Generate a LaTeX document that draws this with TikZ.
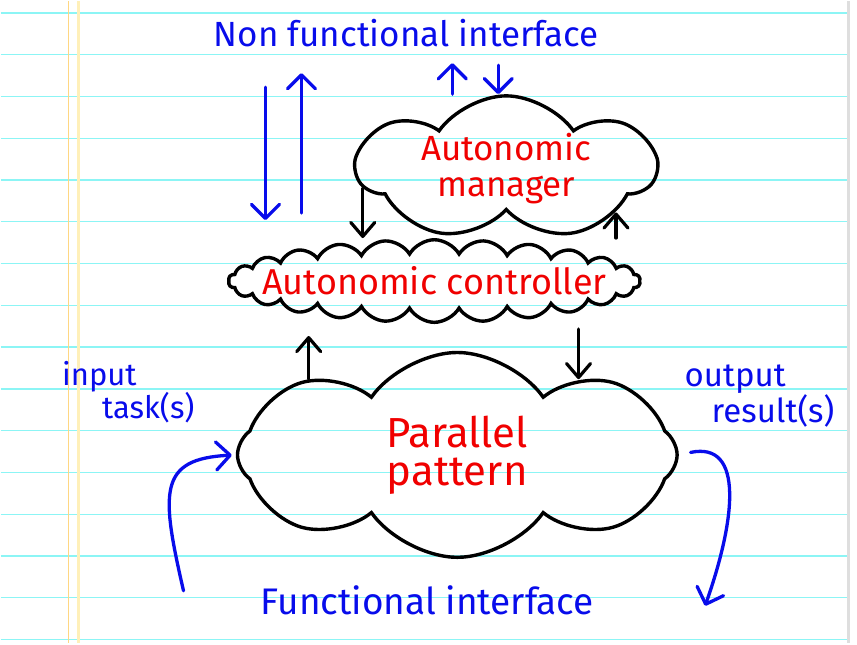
\documentclass[tikz,border=0pt]{standalone}
\usepackage{fontspec}
\setmainfont{Fira Sans}
\usetikzlibrary{shapes.symbols,arrows.meta,positioning}
\definecolor{inkblue}{RGB}{8,12,235}
\definecolor{inkred}{RGB}{240,0,0}
\definecolor{ruleline}{RGB}{140,245,245}
\definecolor{marginA}{RGB}{255,215,130}
\definecolor{marginB}{RGB}{255,240,185}
\begin{document}
\begin{tikzpicture}[x=1pt,y=-1pt,
    cloudbox/.style={cloud, draw=black, line width=3.4pt, cloud ignores aspect,
      align=center, text=inkred, inner sep=0pt},
    flow/.style={-{Straight Barb[length=14pt,width=28pt,round]}, draw=inkblue,
      line width=3.3pt, line cap=round},
    link/.style={-{Straight Barb[length=14pt,width=24pt,round]},
      line width=3.2pt, line cap=round},
    note/.style={text=inkblue, font=\fontsize{35}{35}\selectfont}
  ]
  % notebook paper
  \fill[white] (0,0) rectangle (857,642);
  \foreach \k in {0,...,15}
    \draw[ruleline, line width=1.3pt] (0,11.7+41.8*\k) -- (847,11.7+41.8*\k);
  \draw[marginA, line width=1pt] (67.5,0) -- (67.5,642);
  \draw[marginB, line width=2.5pt] (77.7,0) -- (77.7,642);
  \fill[black!13] (847,0) rectangle (849.5,642);
  \useasboundingbox (0,0) rectangle (857,642);

  % clouds
  \node[cloudbox, cloud puffs=7, cloud puff arc=110, minimum width=298pt,
    minimum height=140pt, font=\fontsize{35}{36}\selectfont] (manager) at (506,167)
    {Autonomic\\manager};
  \node[cloudbox, cloud puffs=26, cloud puff arc=120, inner xsep=-27pt, inner ysep=5pt,
    font=\fontsize{36}{36}\selectfont] (controller) at (434,280)
    {Autonomic controller};
  \node[cloudbox, cloud puffs=8, cloud puff arc=110, minimum width=440pt,
    minimum height=205pt, font=\fontsize{42}{38}\selectfont] (pattern) at (457,454)
    {Parallel\\pattern};

  % labels
  \node[note, anchor=base] (nfi) at (406,45) {Non functional interface};
  \node[note, anchor=base, font=\fontsize{37}{37}\selectfont] (fi) at (427,614) {Functional interface};
  \node[note, anchor=base west, align=left, font=\fontsize{31}{30}\selectfont] (tasks) at (58,418)
    {input\\\hspace*{40pt}task(s)};
  \node[note, anchor=base west, align=left, font=\fontsize{33}{36}\selectfont] (results) at (681,422)
    {output\\\hspace*{27pt}result(s)};

  % free ends
  \coordinate (nfin) at (265,86);
  \coordinate (nfout) at (301,72);
  \coordinate (mgrout) at (452,62);
  \coordinate (mgrin) at (498,64);
  \coordinate (taskin) at (183,590);
  \coordinate (resultout) at (705,605);

  % non functional interface
  \draw[flow, shorten >=18pt] (nfin) -- (nfin |- controller.north);
  \draw[flow, shorten <=25pt] (controller.north -| nfout) -- (nfout);
  \draw[flow] (manager.north -| mgrout) -- (mgrout);
  \draw[flow] (mgrin) -- (mgrin |- manager.north);

  % control loop
  \draw[link] (manager.188) -- (manager.188 |- controller.north);
  \draw[link] (controller.north -| manager.-22) -- (manager.-22);
  \draw[link, shorten >=12pt] (pattern.153) -- (pattern.153 |- controller.south);
  \draw[link, shorten <=5pt] (controller.south -| pattern.32) -- (pattern.32);

  % functional interface
  \draw[flow, shorten >=4pt] (taskin) .. controls (160,490) and (158,458) .. (pattern.west);
  \draw[flow, shorten <=12pt] (pattern.east) .. controls (745,440) and (735,520) .. (resultout);
\end{tikzpicture}
\end{document}
